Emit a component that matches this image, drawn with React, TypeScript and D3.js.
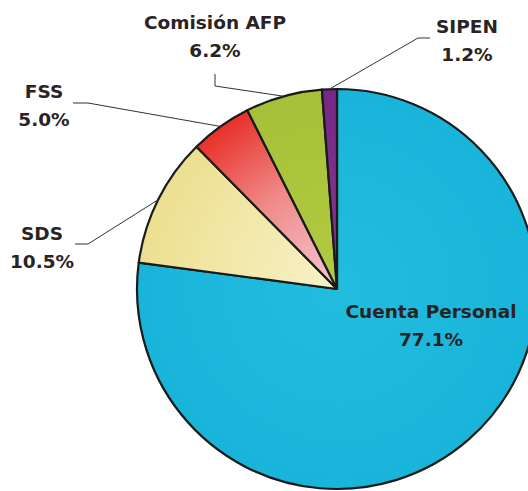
import React from "react";
import * as d3 from "d3";

const categories = ["Cuenta Personal", "SDS", "FSS", "Comisión AFP", "SIPEN"];
const values = [77.1, 10.5, 5.0, 6.2, 1.2];
const valueLabels = ["77.1%", "10.5%", "5.0%", "6.2%", "1.2%"];

const W = 528;
const H = 491;
const cx = 337;
const cy = 289;
const R = 200;

const gradients: Record<string, [string, string, string]> = {
  "Cuenta Personal": ["#22bcdf", "#1db8dc", "#19b4d9"],
  SDS: ["#f7f1c8", "#f2e8aa", "#ecdf90"],
  FSS: ["#f4c8d2", "#ef8a88", "#e8302a"],
  "Comisión AFP": ["#b2ca44", "#abc53c", "#a6c139"],
  SIPEN: ["#86358f", "#7d2f8a", "#742985"],
};

const labelLayout: Record<string, { x: number; y: number; path?: [number, number][] }> = {
  "Cuenta Personal": { x: 431, y: 318 },
  SDS: { x: 42, y: 240, path: [[75, 244], [88, 244]] },
  FSS: { x: 44, y: 98, path: [[73, 103], [88, 103]] },
  "Comisión AFP": { x: 215, y: 29, path: [[215, 74], [215, 86]] },
  SIPEN: { x: 467, y: 33, path: [[430, 38], [418, 38]] },
};

export default function App() {
  const data = categories.map((c, i) => ({ cat: c, value: values[i], label: valueLabels[i] }));
  const pie = d3
    .pie<{ cat: string; value: number; label: string }>()
    .sort(null)
    .value((d) => d.value)
    .startAngle(0)
    .endAngle(2 * Math.PI);
  const arcs = pie(data);
  const arc = d3.arc<d3.PieArcDatum<any>>().innerRadius(0).outerRadius(R);
  const font = "'DejaVu Sans', sans-serif";

  return (
    <svg width={W} height={H} style={{ position: "absolute", left: 0, top: 0 }}>
      <defs>
        {categories.map((c, i) => (
          <radialGradient key={c} id={`g${i}`} gradientUnits="userSpaceOnUse" cx={0} cy={0} r={R}>
            <stop offset="0%" stopColor={gradients[c][0]} />
            <stop offset="55%" stopColor={gradients[c][1]} />
            <stop offset="100%" stopColor={gradients[c][2]} />
          </radialGradient>
        ))}
      </defs>
      <rect width={W} height={H} fill="#ffffff" />
      <g transform={`translate(${cx},${cy})`}>
        {arcs.map((a, i) => (
          <path
            key={a.data.cat}
            d={arc(a) || ""}
            fill={`url(#g${i})`}
            stroke="#1a1a1a"
            strokeWidth={2.2}
            strokeLinejoin="round"
          />
        ))}
      </g>
      {arcs.map((a) => {
        const lay = labelLayout[a.data.cat];
        const mid = (a.startAngle + a.endAngle) / 2;
        const ex = cx + R * Math.sin(mid);
        const ey = cy - R * Math.cos(mid);
        const pts = lay.path ? [...lay.path, [ex, ey] as [number, number]] : null;
        return (
          <g key={a.data.cat}>
            {pts && (
              <path d={d3.line()(pts) || ""} fill="none" stroke="#333333" strokeWidth={1} />
            )}
            <text x={lay.x} y={lay.y} textAnchor="middle" fontFamily={font} fontWeight={700} fontSize={18.5} fill="#2a2324">
              {a.data.cat}
            </text>
            <text x={lay.x} y={lay.y + 28} textAnchor="middle" fontFamily={font} fontWeight={700} fontSize={18.5} fill="#2a2324">
              {a.data.label}
            </text>
          </g>
        );
      })}
    </svg>
  );
}
